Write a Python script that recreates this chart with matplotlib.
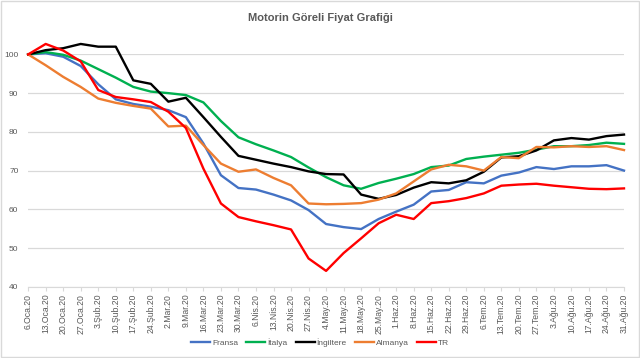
import matplotlib.pyplot as plt
import numpy as np

plt.rcParams['font.family'] = ['Liberation Sans', 'DejaVu Sans']

dates = ['6.Oca.20', '13.Oca.20', '20.Oca.20', '27.Oca.20', '3.Şub.20', '10.Şub.20',
         '17.Şub.20', '24.Şub.20', '2.Mar.20', '9.Mar.20', '16.Mar.20', '23.Mar.20',
         '30.Mar.20', '6.Nis.20', '13.Nis.20', '20.Nis.20', '27.Nis.20', '4.May.20',
         '11.May.20', '18.May.20', '25.May.20', '1.Haz.20', '8.Haz.20', '15.Haz.20',
         '22.Haz.20', '29.Haz.20', '6.Tem.20', '13.Tem.20', '20.Tem.20', '27.Tem.20',
         '3.Ağu.20', '10.Ağu.20', '17.Ağu.20', '24.Ağu.20', '31.Ağu.20']

fransa = [100, 100.3, 99.4, 97.0, 92.3, 88.4, 87.2, 86.5, 85.6, 83.8, 77.0, 68.8,
          65.5, 65.1, 63.8, 62.3, 59.8, 56.2, 55.4, 54.9, 57.5, 59.4, 61.2, 64.6,
          65.0, 67.0, 66.7, 68.7, 69.5, 70.9, 70.4, 71.1, 71.1, 71.4, 70.0]
italya = [100, 100.6, 99.9, 98.4, 96.2, 94.0, 91.6, 90.4, 90.0, 89.5, 87.6, 82.8,
          78.6, 76.8, 75.2, 73.5, 70.8, 68.3, 66.2, 65.3, 66.8, 67.9, 69.1, 70.9,
          71.3, 73.0, 73.6, 74.1, 74.6, 75.4, 76.3, 76.3, 76.6, 77.2, 76.9]
ingiltere = [100, 101.1, 101.6, 102.7, 102.0, 102.0, 93.3, 92.4, 87.8, 88.8, 83.8, 78.7,
             73.8, 72.8, 71.8, 70.9, 69.8, 69.1, 69.0, 63.8, 62.7, 63.7, 65.6, 67.0,
             66.7, 67.5, 69.7, 73.4, 73.7, 75.2, 77.8, 78.4, 78.0, 78.9, 79.3]
almanya = [100, 97.2, 94.2, 91.6, 88.6, 87.5, 86.7, 86.0, 81.4, 81.6, 76.6, 71.8,
           69.7, 70.3, 68.1, 66.2, 61.5, 61.3, 61.4, 61.6, 62.5, 64.1, 67.2, 70.3,
           71.5, 71.1, 70.0, 73.5, 73.2, 76.1, 76.0, 76.3, 76.1, 76.3, 75.3]
tr = [100, 102.7, 101.0, 98.2, 90.8, 89.0, 88.4, 87.7, 85.2, 81.0, 70.5, 61.5,
      58.0, 56.9, 55.9, 54.8, 47.3, 44.1, 48.7, 52.5, 56.4, 58.6, 57.5, 61.6,
      62.1, 62.9, 64.1, 66.1, 66.4, 66.6, 66.1, 65.7, 65.3, 65.2, 65.4]

series = [('Fransa', fransa, '#4472C4'),
          ('İtalya', italya, '#00B050'),
          ('İngiltere', ingiltere, '#000000'),
          ('Almanya', almanya, '#ED7D31'),
          ('TR', tr, '#FF0000')]

fig = plt.figure(figsize=(6.4, 3.58), dpi=100)
ax = fig.add_axes([0.044, 0.199, 0.931, 0.649])

x = np.arange(len(dates))
for name, vals, col in series:
    ax.plot(x, vals, color=col, lw=1.7, label=name, clip_on=False, zorder=3)

ax.set_xlim(0, len(dates) - 1)
ax.set_ylim(40, 100)
ax.set_yticks(np.arange(40, 101, 10))
ax.grid(True, axis='y', color='#d9d9d9', lw=0.9)
ax.set_axisbelow(True)
ax.set_xticks(x)
ax.set_xticklabels(dates, rotation=90, fontsize=6.2, color='#595959')
ax.tick_params(axis='y', length=0, labelsize=6, labelcolor='#595959', pad=7)
ax.tick_params(axis='x', length=3, color='#d9d9d9', pad=2)
for s in ['top', 'right', 'left']:
    ax.spines[s].set_visible(False)
ax.spines['bottom'].set_color('#d9d9d9')

fig.suptitle('Motorin Göreli Fiyat Grafiği', x=0.5, y=0.965, fontsize=8,
             fontweight='bold', color='#595959')

fig.legend(loc='center', bbox_to_anchor=(0.5, 0.042), ncol=5, frameon=False,
           fontsize=6, handlelength=2.3, handletextpad=0.2, columnspacing=1.0,
           labelcolor='#595959')

fig.patches.append(plt.Rectangle((0.002, 0.003), 0.996, 0.994, transform=fig.transFigure,
                                 fill=False, edgecolor='#d9d9d9', lw=1))

fig.savefig('out.png', dpi=100)
